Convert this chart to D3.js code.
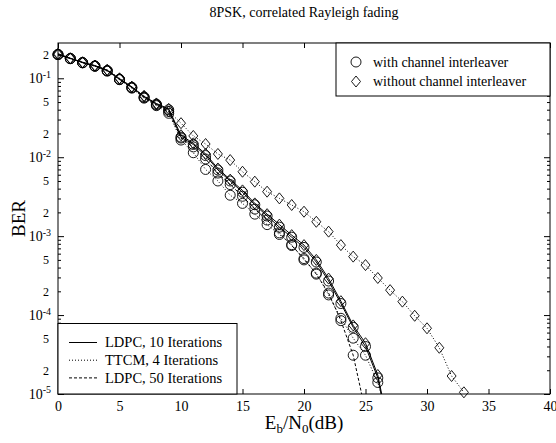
<!DOCTYPE html>
<html>
<head>
<meta charset="utf-8">
<script src="https://cdn.jsdelivr.net/npm/d3@7"></script>
<style>
body{margin:0;background:#fff;}
text{font-family:"Liberation Serif","Times New Roman",serif;fill:#000;}
</style>
</head>
<body>
<div id="chart"></div>
<script>
// Eb/N0 (dB) grids
var snrLdpc = [0,1,2,3,4,5,6,7,8,9,10,11,12,13,14,15,16,17,18,19,20,21,22,23,24,25,26,27];
var snrL50  = [0,1,2,3,4,5,6,7,8,9,10,11,12,13,14,15,16,17,18,19,20,21,22,23,24,25];
var snrTtcm = [0,1,2,3,4,5,6,7,8,9,10,11,12,13,14,15,16,17,18,19,20,21,22,23,24,25,26,27,28,29,30,31,32,33];

// BER values
var ldpc10With    = [0.2,0.178,0.158,0.143,0.125,0.097,0.077,0.058,0.047,0.04,0.018,0.0145,0.0105,0.0069,0.005,0.0036,0.0025,0.0018,0.0013,0.00097,7.2e-4,4.7e-4,2.7e-4,1.4e-4,7.0e-5,4.0e-5,1.6e-5,2.8e-6];
var ldpc10Without = [0.205,0.18,0.16,0.145,0.127,0.099,0.078,0.059,0.048,0.041,0.019,0.015,0.011,0.0072,0.0052,0.0038,0.0026,0.0019,0.0014,0.00103,7.7e-4,5.0e-4,2.9e-4,1.5e-4,7.4e-5,4.4e-5,1.74e-5,3e-6];
var ldpc50With    = [0.2,0.178,0.158,0.143,0.125,0.097,0.076,0.057,0.046,0.038,0.0175,0.0135,0.0095,0.0063,0.0045,0.0032,0.0022,0.0016,0.0011,7.6e-4,5.2e-4,3.3e-4,1.9e-4,8.5e-5,3.1e-5,6e-6];
var ttcmWith      = [0.2,0.177,0.157,0.142,0.123,0.096,0.075,0.056,0.045,0.036,0.0165,0.0114,0.007,0.005,0.0033,0.0026,0.0019,0.0014,0.00105,7.8e-4,5.0e-4,3.4e-4,1.8e-4,9.1e-5,5.1e-5,3.1e-5,1.4e-5,4e-6];
var ttcmWithout   = [0.2,0.178,0.158,0.145,0.128,0.1,0.078,0.06,0.047,0.038,0.027,0.0186,0.0147,0.011,0.0092,0.00655,0.0049,0.00366,0.00301,0.00248,0.00204,0.00152,0.00114,7.7e-4,5.5e-4,4.3e-4,2.95e-4,2.07e-4,1.48e-4,9.8e-5,6.8e-5,3.85e-5,1.69e-5,1.05e-5];

var xTicks = [0,5,10,15,20,25,30,35,40];
var decades = [1e-5,1e-4,1e-3,1e-2,1e-1];
var minorLabelled = [2,5];

var legendMarkers = ["with channel interleaver","without channel interleaver"];
var legendLines = ["LDPC, 10 Iterations","TTCM, 4 Iterations","LDPC, 50 Iterations"];

var W = 556, H = 443;
var pL = 58, pR = 550, pT = 43, pB = 394; // plot box

var svg = d3.select("#chart").append("svg")
    .attr("width", W).attr("height", H);

var x = d3.scaleLinear().domain([0,40]).range([pL,pR]);
var y = d3.scaleLog().domain([1e-5,0.28]).range([pB,pT]);

var dashes = {solid:null, dotted:"1,2", dashed:"3,2"};

var series = [
  {xs:snrLdpc, ys:ldpc10Without, mark:"diamond", line:"solid"},
  {xs:snrLdpc, ys:ldpc10With, mark:"circle", line:"solid"},
  {xs:snrTtcm, ys:ttcmWithout, mark:"diamond", line:"dotted"},
  {xs:snrLdpc, ys:ttcmWith, mark:"circle", line:"dotted"},
  {xs:snrL50, ys:ldpc50With, mark:"circle", line:"dashed"}
];

svg.append("clipPath").attr("id","plotclip")
  .append("rect").attr("x",pL).attr("y",pT)
  .attr("width",pR-pL).attr("height",pB-pT);

// minor y ticks (2..9 per decade)
var minorVals = [];
decades.forEach(function(d){
  for(var k=2;k<=9;k++){
    var v = d*k;
    if(v<=0.28) minorVals.push(v);
  }
});

// axes, inward ticks like matlab
svg.append("g").attr("transform","translate(0,"+pB+")")
  .call(d3.axisBottom(x).tickValues(xTicks).tickSize(-5).tickPadding(7).tickFormat(d3.format("d")))
  .call(function(g){ g.select(".domain").remove(); g.selectAll("text").attr("font-size","14px").attr("font-family","Liberation Serif"); });

svg.append("g").attr("transform","translate(0,"+pT+")")
  .call(d3.axisTop(x).tickValues(xTicks).tickSize(-5).tickFormat(""))
  .call(function(g){ g.select(".domain").remove(); });

svg.append("g").attr("transform","translate("+pL+",0)")
  .call(d3.axisLeft(y).tickValues(decades).tickSize(-6).tickPadding(7))
  .call(function(g){
    g.select(".domain").remove();
    g.selectAll(".tick text").text(null)
      .attr("font-size","14px").attr("font-family","Liberation Serif")
      .each(function(d){
        var t = d3.select(this);
        t.append("tspan").text("10");
        t.append("tspan").attr("dy","-0.55em").attr("font-size","10px").text(Math.round(Math.log10(d)));
      });
  });

svg.append("g").attr("transform","translate("+pL+",0)")
  .call(d3.axisLeft(y).tickValues(minorVals).tickSize(-3).tickPadding(9)
    .tickFormat(function(d){
      var m = Math.round(d/Math.pow(10,Math.floor(Math.log10(d)+1e-9)));
      return minorLabelled.indexOf(m)>=0 ? m : "";
    }))
  .call(function(g){ g.select(".domain").remove(); g.selectAll("text").attr("font-size","12px").attr("font-family","Liberation Serif"); });

svg.append("g").attr("transform","translate("+pR+",0)")
  .call(d3.axisRight(y).tickValues(decades).tickSize(-6).tickFormat(""))
  .call(function(g){ g.select(".domain").remove(); });
svg.append("g").attr("transform","translate("+pR+",0)")
  .call(d3.axisRight(y).tickValues(minorVals).tickSize(-3).tickFormat(""))
  .call(function(g){ g.select(".domain").remove(); });

// curves
var line = d3.line().x(function(d){return x(d[0]);}).y(function(d){return y(d[1]);});
var plot = svg.append("g").attr("clip-path","url(#plotclip)");

function drawMarker(g, kind, cx, cy){
  if(kind==="circle"){
    g.append("circle").attr("cx",cx).attr("cy",cy).attr("r",5)
      .attr("fill","none").attr("stroke","#000").attr("stroke-width",0.9);
  } else {
    g.append("path")
      .attr("d","M"+cx+","+(cy-5.5)+"L"+(cx+4.5)+","+cy+"L"+cx+","+(cy+5.5)+"L"+(cx-4.5)+","+cy+"Z")
      .attr("fill","none").attr("stroke","#000").attr("stroke-width",0.9);
  }
}

series.forEach(function(s){
  var pts = s.xs.map(function(v,i){ return [v, s.ys[i]]; });
  plot.append("path").datum(pts)
    .attr("d", line)
    .attr("fill","none").attr("stroke","#000").attr("stroke-width",1)
    .attr("stroke-dasharray", dashes[s.line]);
});
var markers = svg.append("g");
series.forEach(function(s){
  s.xs.forEach(function(v,i){
    if(s.ys[i] >= 1e-5) drawMarker(markers, s.mark, x(v), y(s.ys[i]));
  });
});

// frame
svg.append("rect").attr("x",pL).attr("y",pT)
  .attr("width",pR-pL).attr("height",pB-pT)
  .attr("fill","none").attr("stroke","#000").attr("stroke-width",1);

// legend: interleaver markers (top right)
var lg1 = svg.append("g");
lg1.append("rect").attr("x",336).attr("y",pT).attr("width",pR-336).attr("height",53)
  .attr("fill","#fff").attr("stroke","#000").attr("stroke-width",1);
legendMarkers.forEach(function(t,i){
  var cy = 62 + i*19.5;
  drawMarker(lg1, i===0 ? "circle" : "diamond", 356, cy);
  lg1.append("text").attr("x",373).attr("y",cy).attr("dy","0.33em")
    .attr("font-size","14px").text(t);
});

// legend: line styles (bottom left)
var lg2 = svg.append("g");
lg2.append("rect").attr("x",pL).attr("y",323.5).attr("width",237-pL).attr("height",pB-323.5)
  .attr("fill","#fff").attr("stroke","#000").attr("stroke-width",1);
["solid","dotted","dashed"].forEach(function(k,i){
  var cy = 342.5 + i*17.7;
  lg2.append("line").attr("x1",69).attr("x2",97).attr("y1",cy).attr("y2",cy)
    .attr("stroke","#000").attr("stroke-width",1).attr("stroke-dasharray",dashes[k]);
  lg2.append("text").attr("x",105).attr("y",cy).attr("dy","0.33em")
    .attr("font-size","14.5px").text(legendLines[i]);
});

// titles
svg.append("text").attr("x",(pL+pR)/2).attr("y",17).attr("text-anchor","middle")
  .attr("font-size","14px").text("8PSK, correlated Rayleigh fading");

svg.append("text").attr("transform","translate(25,"+((pT+pB)/2)+") rotate(-90)")
  .attr("text-anchor","middle").attr("font-size","19px").text("BER");

var xl = svg.append("text").attr("x",(pL+pR)/2).attr("y",429).attr("text-anchor","middle")
  .attr("font-size","19px");
xl.append("tspan").text("E");
xl.append("tspan").attr("dy","4").attr("font-size","13px").text("b");
xl.append("tspan").attr("dy","-4").text("/N");
xl.append("tspan").attr("dy","4").attr("font-size","13px").text("0");
xl.append("tspan").attr("dy","-4").text("(dB)");
</script>
</body>
</html>
